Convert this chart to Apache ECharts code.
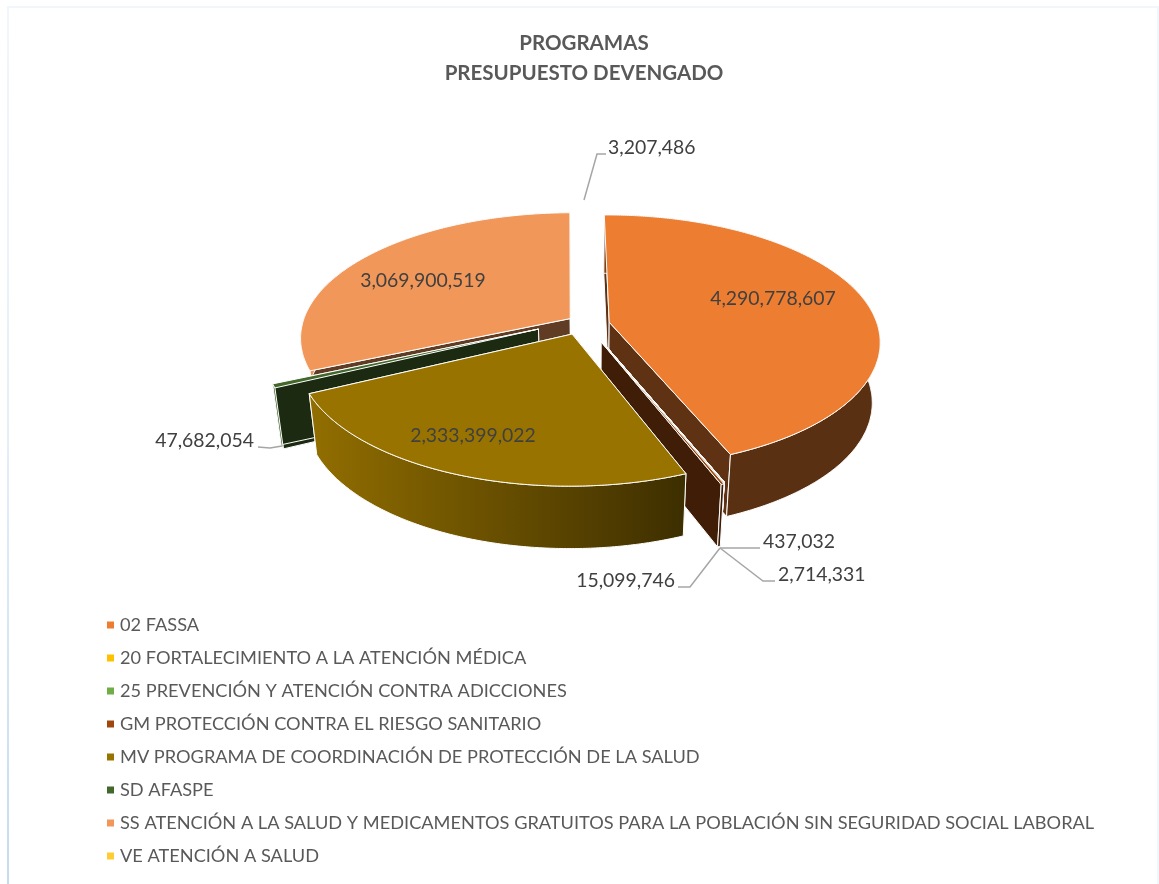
<!DOCTYPE html>
<html><head><meta charset="utf-8">
<style>html,body{margin:0;padding:0;background:#fff}#c{width:1159px;height:884px}</style>
<script src="https://cdn.jsdelivr.net/npm/echarts@6/dist/echarts.min.js"></script>
</head><body><div id="c"></div>
<script>
const categories = ['02 FASSA','20 FORTALECIMIENTO A LA ATENCIÓN MÉDICA','25 PREVENCIÓN Y ATENCIÓN CONTRA ADICCIONES','GM PROTECCIÓN CONTRA EL RIESGO SANITARIO','MV PROGRAMA DE COORDINACIÓN DE PROTECCIÓN DE LA SALUD','SD AFASPE','SS ATENCIÓN A LA SALUD Y MEDICAMENTOS GRATUITOS PARA LA POBLACIÓN SIN SEGURIDAD SOCIAL LABORAL','VE ATENCIÓN A SALUD'];
const values = [4290778607,437032,2714331,15099746,2333399022,47682054,3069900519,3207486];
const colors = ['#ED7D31','#FFC000','#70AD47','#9E480E','#997300','#43682B','#F1975A','#FFCD33'];
const explodeX = [0.083,0.052,0.052,0.052,-0.055,-0.18,-0.063,-0.01];
const explodeY = [-0.015,0.13,0.13,0.14,0.079,0.04,-0.044,-0.14];
const tilts = [0.462,0.47,0.47,0.47,0.47,0.47,0.46,0.47];
const edgeWidths = [1,1,1,1,1,1,1,2];
const paintOrder = [3,4,5,6,8,7,1,2];
const labelPos = [[773,299,'center'],[763,542,'left'],[778,575,'left'],[675,581,'right'],[473,436,'center'],[254,441,'right'],[423,281,'center'],[608,148,'left']];
const leaders = [null,[[720,548],[760,548]],[[720,548],[763,581],[775,581]],[[720,548],[690,587],[678,587]],null,[[282,446],[270,448],[258,447]],null,[[584,200],[597,154],[606,154]]];

const START=-0.5, CX=587, CY=324, R=268, K=0.15, Q=0.973, DEPTH=60;
const total = values.reduce((a,b)=>a+b,0);
function rad(d){return d*Math.PI/180;}
function shade(hex,f){const n=parseInt(hex.slice(1),16);const c=[n>>16&255,n>>8&255,n&255].map(v=>Math.round(v*f));return 'rgb('+c.join(',')+')';}
function renderSlice(params, api){
  const i=params.seriesIndex;
  let a0=START; for(let j=0;j<i;j++) a0+=values[j]/total*360;
  const a1=a0+api.value(0)/total*360;
  const ex=explodeX[i], ey=explodeY[i], T=tilts[i];
  const top=(deg,r)=>{const X=r*Math.sin(rad(deg))+ex,Y=-r*Math.cos(rad(deg))+ey,s=1/(1-K*Y);return [CX+R*X*s,CY+R*T*Y*s];};
  const bot=p=>[CX+(p[0]-CX)*Q,p[1]+DEPTH+(p[1]-CY)*0.015];
  const arc=[]; const n=Math.max(2,Math.ceil(a1-a0)*2);
  for(let k=0;k<=n;k++) arc.push(top(a0+(a1-a0)*k/n,1));
  const apex=top(0,0);
  const wallColor=shade(colors[i],0.4);
  const edge={stroke:'#fff',lineWidth:edgeWidths[i],lineJoin:'round'};
  const outerFill={type:'linear',x:300,y:0,x2:700,y2:0,global:true,colorStops:[{offset:0,color:shade(colors[i],0.97)},{offset:1,color:shade(colors[i],0.38)}]};
  const poly=(pts,fill)=>({type:'polygon',shape:{points:pts},style:Object.assign({fill},edge)});
  const children=[];
  const sP=arc[0],eP=arc[arc.length-1];
  children.push(poly([apex,sP,bot(sP),bot(apex)],wallColor));
  children.push(poly([apex,eP,bot(eP),bot(apex)],wallColor));
  children.push(poly(arc.concat(arc.map(bot).reverse()),outerFill));
  children.push(poly([apex].concat(arc),colors[i]));
  if(leaders[i]) children.push({type:'polyline',shape:{points:leaders[i]},style:{stroke:'#A6A6A6',lineWidth:1.5,fill:null}});
  const lp=labelPos[i];
  children.push({type:'text',style:{x:lp[0],y:lp[1],text:values[i].toLocaleString('en-US'),fill:'#404040',font:'19.4px Lato',textAlign:lp[2],textVerticalAlign:'middle'}});
  return {type:'group',children};
}
const chart=echarts.init(document.getElementById('c'),null,{renderer:'canvas'});
chart.setOption({
  animation:false,
  backgroundColor:'#fff',
  title:{text:'PROGRAMAS\nPRESUPUESTO DEVENGADO',left:579,top:23,textAlign:'center',textStyle:{fontFamily:'Lato',fontWeight:'bold',fontSize:20.5,color:'#595959',lineHeight:30}},
  legend:{orient:'vertical',left:107,top:615,padding:0,itemWidth:7,itemHeight:7,itemGap:13,icon:'rect',selectedMode:false,data:categories,
    textStyle:{fontFamily:'Lato',fontSize:18.2,color:'#595959',lineHeight:20,padding:[0,0,0,1]}},
  graphic:[
    {type:'rect',silent:true,shape:{x:8,y:7,width:1150,height:900},style:{fill:null,stroke:'#F1F6FC',lineWidth:2}},
    {type:'line',silent:true,shape:{x1:8,y1:7,x2:8,y2:884},style:{lineWidth:2,stroke:{type:'linear',x:0,y:7,x2:0,y2:884,global:true,colorStops:[{offset:0,color:'#F1F6FC'},{offset:0.5,color:'#E4EEF8'},{offset:1,color:'#C5DCEE'}]}}}
  ],
  series:categories.map((name,i)=>({type:'custom',name,coordinateSystem:'none',z:paintOrder[i]+2,silent:true,itemStyle:{color:colors[i]},data:[[values[i]]],encode:{value:0},renderItem:renderSlice}))
});
</script></body></html>
